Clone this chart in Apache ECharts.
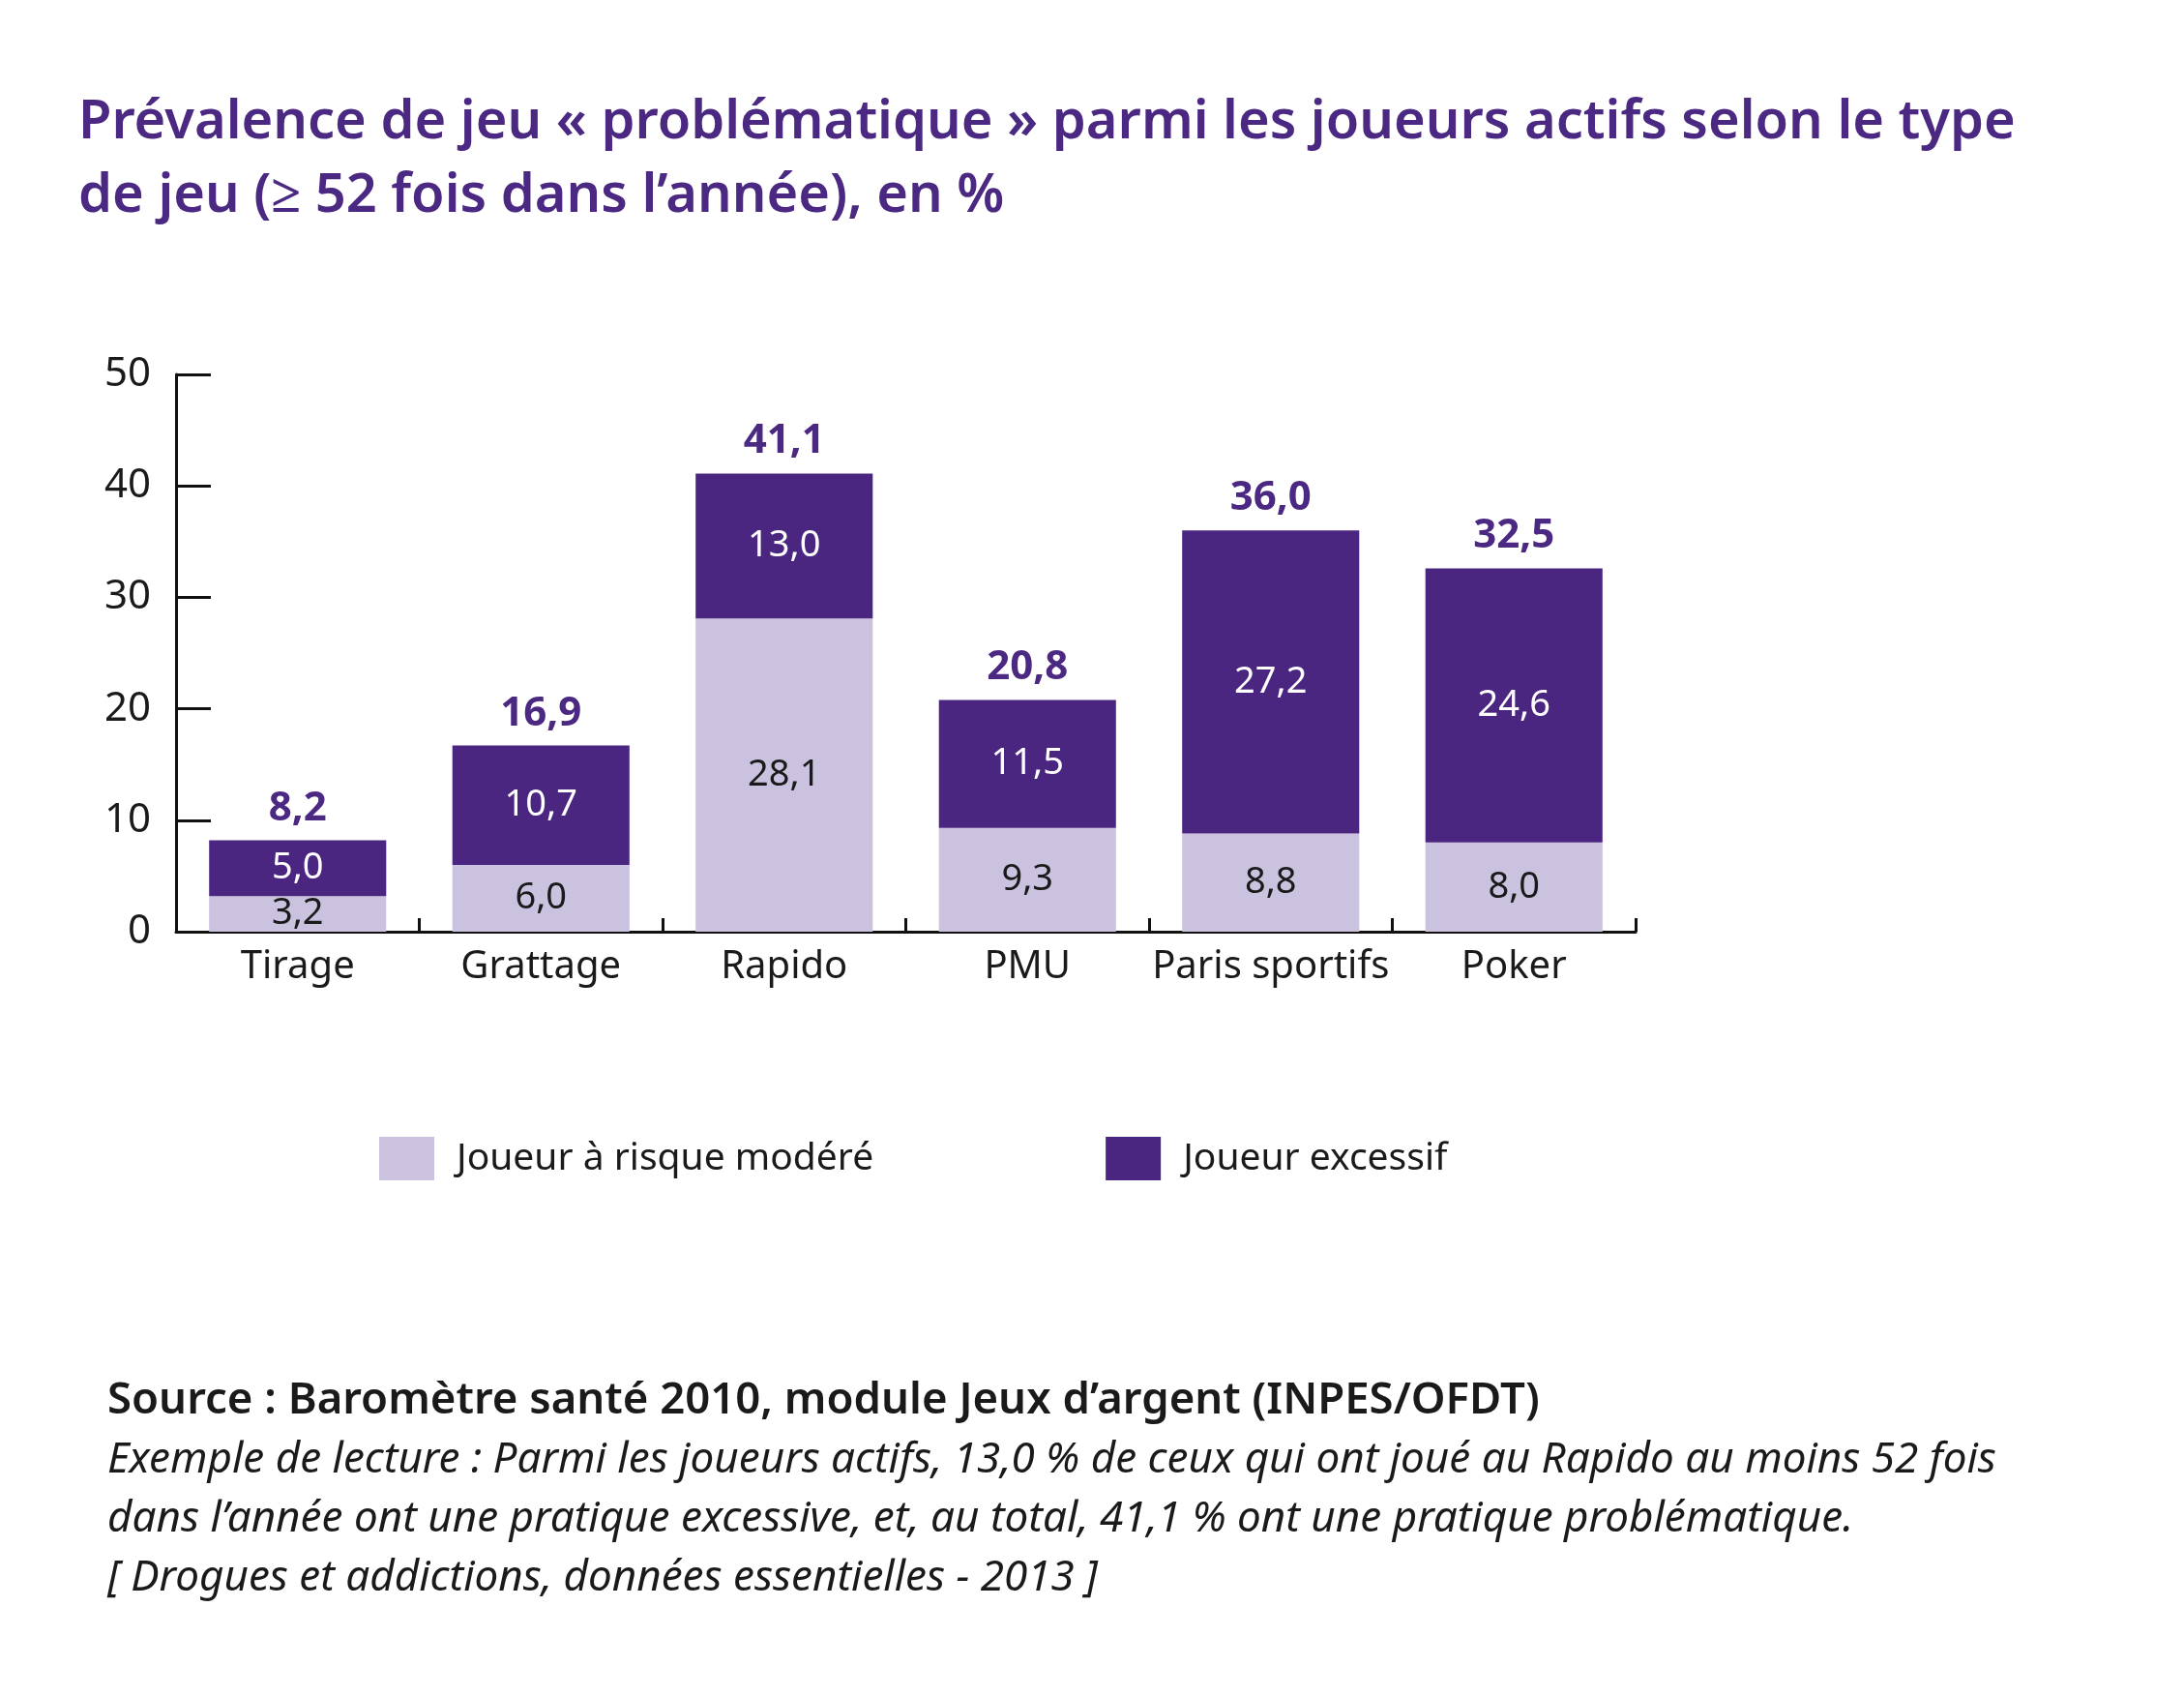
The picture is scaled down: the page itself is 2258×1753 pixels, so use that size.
<!DOCTYPE html>
<html>
<head>
<meta charset="utf-8">
<script src="https://cdn.jsdelivr.net/npm/echarts@6/dist/echarts.min.js"></script>
<style>
  html, body { margin: 0; padding: 0; background: #fff; }
  #chart { width: 2258px; height: 1753px; }
</style>
</head>
<body>
<div id="chart"></div>
<script>
const categories = ["Tirage", "Grattage", "Rapido", "PMU", "Paris sportifs", "Poker"];
const risqueModere = [3.2, 6.0, 28.1, 9.3, 8.8, 8.0];
const excessif = [5.0, 10.7, 13.0, 11.5, 27.2, 24.6];
const totals = [8.2, 16.9, 41.1, 20.8, 36.0, 32.5];
const yTicks = [0, 10, 20, 30, 40, 50];

const purple = "#4a2681";
const lilac = "#cbc2df";
const font = "Noto Sans";

function fr(v) {
  return v.toFixed(1).replace(".", ","); // french decimal comma
}

var myChart = echarts.init(document.getElementById("chart"));

var option = {
  textStyle: { fontFamily: font },
  title: [
    {
      text: "Prévalence de jeu « problématique » parmi les joueurs actifs selon le type\nde jeu (≥ 52 fois dans l’année), en %",
      left: 76,
      top: 84,
      textStyle: { color: "#4b2882", fontSize: 56, fontWeight: 600, lineHeight: 76, fontFamily: font },
    },
    {
      text: "Source : Baromètre santé 2010, module Jeux d’argent (INPES/OFDT)",
      left: 106,
      top: 1420,
      textStyle: { color: "#1a1a1a", fontSize: 45.5, fontWeight: 600, fontFamily: font },
    },
    {
      text: "Exemple de lecture : Parmi les joueurs actifs, 13,0 % de ceux qui ont joué au Rapido au moins 52 fois\ndans l’année ont une pratique excessive, et, au total, 41,1 % ont une pratique problématique.\n[ Drogues et addictions, données essentielles - 2013 ]",
      left: 106,
      top: 1474,
      textStyle: { color: "#1a1a1a", fontSize: 44, fontStyle: "italic", fontWeight: "normal", lineHeight: 61, fontFamily: font },
    },
  ],
  legend: {
    data: ["Joueur à risque modéré", "Joueur excessif"],
    left: 387,
    top: 1170,
    itemWidth: 57,
    itemHeight: 45,
    itemGap: 240,
    icon: "rect",
    textStyle: { fontSize: 39, color: "#1a1a1a", padding: [0, 0, 0, 18], fontFamily: font },
  },
  grid: { left: 182, right: 567, top: 387, bottom: 790 },
  xAxis: {
    type: "category",
    data: categories,
    z: 1,
    axisLine: { lineStyle: { color: "#111", width: 3 } },
    axisTick: { show: true, inside: true, interval: 0, length: 14, lineStyle: { color: "#111", width: 3 } },
    axisLabel: { interval: 0, fontSize: 40, color: "#1a1a1a", margin: 17, fontFamily: font },
  },
  yAxis: {
    type: "value",
    min: 0,
    max: 50,
    interval: 10,
    axisLine: { show: true, lineStyle: { color: "#111", width: 3 } },
    axisTick: { show: true, inside: true, length: 36, lineStyle: { color: "#111", width: 3 } },
    splitLine: { show: false },
    axisLabel: {
      fontSize: 42,
      color: "#1a1a1a",
      margin: 26,
      fontFamily: font,
      formatter: function (v) { return yTicks.indexOf(v) >= 0 ? String(v) : ""; },
    },
  },
  series: [
    {
      name: "Joueur à risque modéré",
      type: "bar",
      stack: "jeu",
      barWidth: "72.8%",
      z: 3,
      data: risqueModere,
      itemStyle: { color: lilac },
      label: {
        show: true,
        position: "inside",
        color: "#1a1a1a",
        fontSize: 38,
        fontFamily: font,
        formatter: function (p) { return fr(p.value); },
      },
    },
    {
      name: "Joueur excessif",
      type: "bar",
      stack: "jeu",
      z: 3,
      data: excessif,
      itemStyle: { color: purple },
      label: {
        show: true,
        position: "inside",
        color: "#ffffff",
        fontSize: 38,
        fontFamily: font,
        formatter: function (p) { return fr(p.value); },
      },
    },
    {
      name: "total",
      type: "bar",
      stack: "jeu",
      data: totals.map(function () { return 0; }),
      itemStyle: { color: "transparent" },
      silent: true,
      label: {
        show: true,
        position: "top",
        distance: 12,
        color: "#4b2882",
        fontSize: 42,
        fontWeight: "bold",
        fontFamily: font,
        formatter: function (p) { return fr(totals[p.dataIndex]); },
      },
    },
  ],
};

myChart.setOption(option);
</script>
</body>
</html>
